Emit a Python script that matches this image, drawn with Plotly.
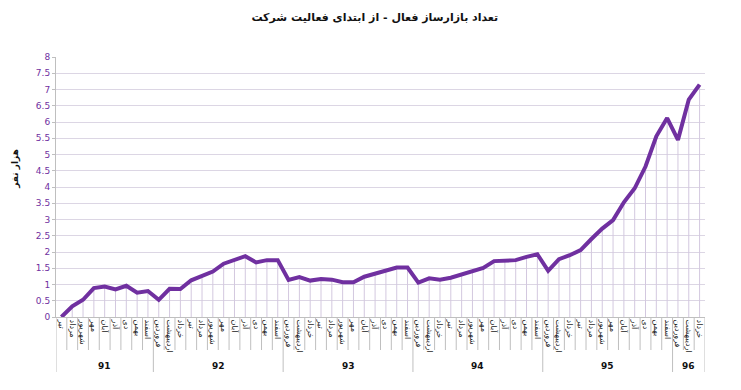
import plotly.graph_objects as go

years = ["91"] * 9 + ["92"] * 12 + ["93"] * 12 + ["94"] * 12 + ["95"] * 12 + ["96"] * 3
months_full = ["فروردین", "اردیبهشت", "خرداد", "تیر", "مرداد", "شهریور",
               "مهر", "آبان", "آذر", "دی", "بهمن", "اسفند"]
months = months_full[3:] + months_full * 4 + months_full[:3]
values = [0.00, 0.33, 0.53, 0.89, 0.94, 0.85, 0.96, 0.75, 0.80,
          0.53, 0.87, 0.86, 1.13, 1.27, 1.40, 1.64, 1.74, 1.87, 1.68, 1.75, 1.75,
          1.14, 1.23, 1.12, 1.17, 1.15, 1.07, 1.07, 1.24, 1.34, 1.45, 1.52, 1.52,
          1.06, 1.19, 1.15, 1.21, 1.32, 1.42, 1.51, 1.72, 1.72, 1.75, 1.85, 1.93,
          1.42, 1.78, 1.90, 2.06, 2.40, 2.72, 2.98, 3.53, 3.96, 4.63, 5.56, 6.12,
          5.45, 6.69, 7.15]

title_text = "تعداد بازارساز فعال - از ابتدای فعالیت شرکت"
y_title = "هزار نفر"
FONT = "DejaVu Sans, Tahoma, sans-serif"
PURPLE = "#7030A0"
SEP = "#BFBFBF"

n = len(values)
idx = list(range(n))

fig = go.Figure()
fig.add_trace(go.Scatter(
    x=idx, y=values, mode="lines",
    line=dict(color=PURPLE, width=4),
    error_y=dict(type="data", symmetric=False, array=[0] * n,
                 arrayminus=values, color="#D3C8DF", thickness=1, width=0),
    hoverinfo="y", showlegend=False,
))

# figure is placed 8px from the page's top-left corner by the browser's body margin
W, H = 725, 374
ML, MR, MT, MB = 48, 28, 49, 65
plot_h = H - MT - MB

shapes = []
annotations = []
year_groups = []
for i, yv in enumerate(years):
    if not year_groups or year_groups[-1][0] != yv:
        year_groups.append([yv, i, i])
    else:
        year_groups[-1][2] = i
year_starts = {g[1] for g in year_groups}
for b in range(n + 1):
    long_sep = b in year_starts or b == n
    depth = 55 if long_sep else 33
    shapes.append(dict(type="line", xref="x", yref="paper",
                       x0=b - 0.5, x1=b - 0.5, y0=0, y1=-depth / plot_h,
                       line=dict(color=SEP, width=1)))
for yv, s, e in year_groups:
    annotations.append(dict(x=(s + e) / 2, xref="x", y=-49 / plot_h, yref="paper",
                            text="<b>" + yv + "</b>", showarrow=False,
                            xanchor="center", yanchor="middle",
                            font=dict(size=9, color="#111111", family=FONT)))
annotations.append(dict(x=0, xref="paper", xshift=-40, y=0.57, yref="paper",
                        text="<b>" + y_title + "</b>", textangle=-90, showarrow=False,
                        xanchor="center", yanchor="middle",
                        font=dict(size=9, color="#111111", family=FONT)))

fig.update_layout(
    width=W, height=H,
    margin=dict(l=ML, r=MR, t=MT, b=MB),
    paper_bgcolor="white", plot_bgcolor="white",
    title=dict(text="<b>" + title_text + "</b>", x=0.506, xanchor="center",
               y=1 - 9 / H, yanchor="middle",
               font=dict(family=FONT, size=11, color="#111111")),
    font=dict(family=FONT),
    shapes=shapes, annotations=annotations,
)
fig.update_xaxes(
    range=[-0.5, n - 0.5], showline=True, linecolor=SEP, linewidth=1,
    tickmode="array", tickvals=idx, ticktext=months, ticks="",
    tickangle=90, tickfont=dict(size=8, color="#222222", family=FONT),
    showgrid=False, zeroline=False, automargin=False,
)
fig.update_yaxes(
    range=[0, 8], dtick=0.5, showgrid=True, gridcolor="#DCD6E4", gridwidth=1,
    showline=True, linecolor=SEP, linewidth=1, zeroline=False,
    ticks="outside", ticklen=3, tickcolor=SEP,
    tickfont=dict(size=9, color=PURPLE, family=FONT), automargin=False,
)

fig.write_html("out.html")
